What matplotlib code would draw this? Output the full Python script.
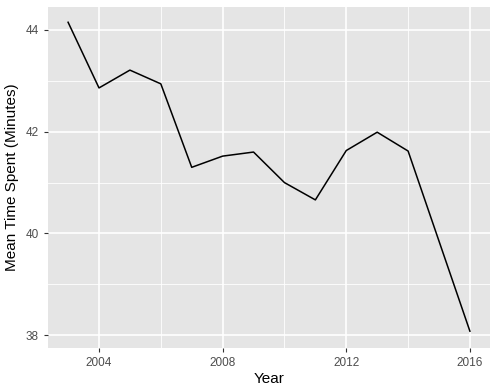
import matplotlib.pyplot as plt

plt.rcParams['font.family'] = ['Liberation Sans', 'DejaVu Sans']

years = [2003, 2004, 2005, 2006, 2007, 2008, 2009, 2010, 2011, 2012, 2013, 2014, 2015, 2016]
mean_time = [44.15, 42.86, 43.21, 42.94, 41.30, 41.52, 41.60, 41.00, 40.66, 41.63, 41.99, 41.62, 39.85, 38.08]

x_ticks = [2004, 2008, 2012, 2016]
y_ticks = [38, 40, 42, 44]

fig = plt.figure(figsize=(5, 3.88), dpi=100)
ax = fig.add_axes([48 / 500, 1 - 348 / 388, 442 / 500, 341 / 388])
ax.set_facecolor('#E5E5E5')

# ggplot-like grid: major and minor lines in white
for x in [2006, 2010, 2014]:
    ax.axvline(x, color='white', lw=0.6, zorder=0)
for y in [39, 41, 43]:
    ax.axhline(y, color='white', lw=0.6, zorder=0)
for x in x_ticks:
    ax.axvline(x, color='white', lw=1.2, zorder=0)
for y in y_ticks:
    ax.axhline(y, color='white', lw=1.2, zorder=0)

ax.plot(years, mean_time, color='black', lw=1.1)

ax.set_xlim(2002.35, 2016.65)
ax.set_ylim(37.75, 44.45)
ax.set_xticks(x_ticks)
ax.set_yticks(y_ticks)
for s in ax.spines.values():
    s.set_visible(False)
ax.tick_params(colors='#333333', length=3, width=0.8, labelsize=8.5, labelcolor='#4D4D4D')

ax.set_xlabel('Year', fontsize=11, labelpad=2)
ax.set_ylabel('Mean Time Spent (Minutes)', fontsize=11, labelpad=5)

fig.savefig('out.png', dpi=100)
